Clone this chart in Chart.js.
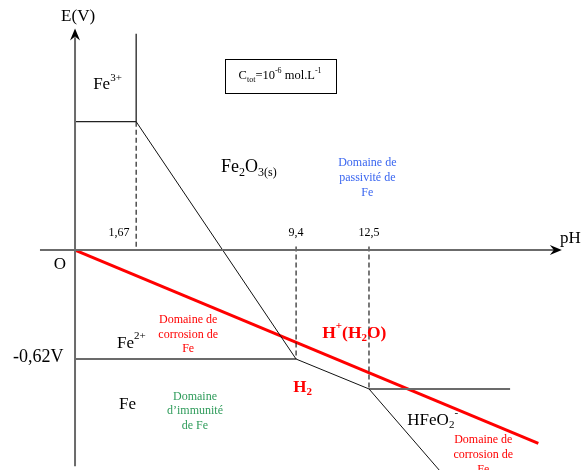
<!DOCTYPE html>
<html>
<head>
<meta charset="utf-8">
<script src="https://cdn.jsdelivr.net/npm/chart.js@4/dist/chart.umd.min.js"></script>
<style>
  body { margin: 0; background: #fff; }
  #wrap { width: 583px; height: 470px; position: relative; }
</style>
</head>
<body>
<div id="wrap"><canvas id="c"></canvas></div>
<script>
// boundaries of the diagram (pH, E in V) - pH axis is schematic, as in the picture
const fe3Boundary = [[0, 0.73], [2.6, 0.73], [2.6, 1.23]];
const oxideBoundary = [[2.6, 0.73], [9.4, -0.62], [12.5, -0.79], [15.8, -1.3]];
const fe2Boundary = [[0, -0.62], [9.4, -0.62]];
const hfeo2Boundary = [[12.5, -0.79], [18.5, -0.79]];
const waterLine = [[0, 0], [19.7, -1.1]];

// dashed guides at the pH breaks
const tickPH = [2.6, 9.4, 12.5];
const tickLabels = ["1,67", "9,4", "12,5"];
const dashTop = [0.73, 0.02, 0.02];
const dashBottom = [0, -0.62, -0.79];

// axes
const xAxisEnds = [-1.49, 20.7];
const yAxisEnds = [-1.23, 1.26];

const pts = a => a.map(p => ({ x: p[0], y: p[1] }));

function line(data, color, width, dash) {
    return {
        data: pts(data), showLine: true, borderColor: color, borderWidth: width,
        borderDash: dash || [], pointRadius: 0, fill: false, tension: 0
    };
}

const datasets = [
    line([[xAxisEnds[0], 0], [xAxisEnds[1] - 0.3, 0]], "#6b6b6b", 2),
    line([[0, yAxisEnds[0]], [0, yAxisEnds[1] - 0.05]], "#6b6b6b", 2),
    line(fe3Boundary, "#222", 1.3),
    line(oxideBoundary, "#111", 1),
    line(fe2Boundary, "#6b6b6b", 2),
    line(hfeo2Boundary, "#6b6b6b", 2)
];
tickPH.forEach((ph, i) => {
    datasets.push(line([[ph, dashTop[i]], [ph, dashBottom[i]]], "#222", 1.2, [5, 3]));
});
datasets.push(line(waterLine, "#ff0000", 3));

// text labels: [pH, E, parts, size, color, bold, align]
const SERIF = "'Liberation Serif', 'DejaVu Serif', serif";
const labels = [
    [0.13, 1.33, [["E(V)", 0]], 17, "#000", false, "center"],
    [0.77, 0.94, [["Fe", 0], ["3+", 1]], 17, "#000", false, "left"],
    [8.72, 0.99, [["C", 0], ["tot", -1], ["=10", 0], ["-6", 1], [" mol.L", 0], ["-1", 1]], 12.5, "#000", false, "center"],
    [6.21, 0.47, [["Fe", 0], ["2", -1], ["O", 0], ["3(s)", -1]], 18, "#000", false, "left"],
    [12.43, 0.495, [["Domaine de", 0]], 12, "#3a66f0", false, "center"],
    [12.43, 0.41, [["passivité de", 0]], 12, "#3a66f0", false, "center"],
    [12.43, 0.324, [["Fe", 0]], 12, "#3a66f0", false, "center"],
    [-0.64, -0.085, [["O", 0]], 17, "#000", false, "center"],
    [21.06, 0.068, [["pH", 0]], 17, "#000", false, "center"],
    [-2.64, -0.609, [["-0,62V", 0]], 18, "#000", false, "left"],
    [1.79, -0.529, [["Fe", 0], ["2+", 1]], 17, "#000", false, "left"],
    [4.81, -0.398, [["Domaine de", 0]], 12, "#ff0000", false, "center"],
    [4.81, -0.483, [["corrosion de", 0]], 12, "#ff0000", false, "center"],
    [4.81, -0.563, [["Fe", 0]], 12, "#ff0000", false, "center"],
    [1.87, -0.88, [["Fe", 0]], 17, "#000", false, "left"],
    [5.1, -0.836, [["Domaine", 0]], 12, "#2e9b5a", false, "center"],
    [5.1, -0.916, [["d\u2019immunité", 0]], 12, "#2e9b5a", false, "center"],
    [5.1, -1.0, [["de Fe", 0]], 12, "#2e9b5a", false, "center"],
    [10.51, -0.472, [["H", 0], ["+", 1], ["(H", 0], ["2", -1], ["O)", 0]], 17.5, "#ff0000", true, "left"],
    [9.28, -0.78, [["H", 0], ["2", -1]], 17, "#ff0000", true, "left"],
    [14.13, -0.967, [["HFeO", 0], ["2", -1], ["-", 1]], 17, "#000", false, "left"],
    [17.36, -1.08, [["Domaine de", 0]], 12, "#ff0000", false, "center"],
    [17.36, -1.166, [["corrosion de", 0]], 12, "#ff0000", false, "center"],
    [17.36, -1.251, [["Fe", 0]], 12, "#ff0000", false, "center"]
];

function drawRich(ctx, x, y, parts, size, color, bold, align) {
    const w = bold ? "bold " : "";
    const small = Math.round(size * 0.65);
    let total = 0;
    parts.forEach(p => {
        ctx.font = w + (p[1] ? small : size) + "px " + SERIF;
        total += ctx.measureText(p[0]).width;
    });
    let cx = align === "center" ? x - total / 2 : x;
    ctx.fillStyle = color;
    ctx.textBaseline = "middle";
    ctx.textAlign = "left";
    parts.forEach(p => {
        ctx.font = w + (p[1] ? small : size) + "px " + SERIF;
        const dy = p[1] === 1 ? -size * 0.4 : p[1] === -1 ? size * 0.3 : 0;
        ctx.fillText(p[0], cx, y + dy);
        cx += ctx.measureText(p[0]).width;
    });
}

const decor = {
    id: "decor",
    afterDatasetsDraw(chart) {
        const ctx = chart.ctx, xs = chart.scales.x, ys = chart.scales.y;
        ctx.save();
        // arrow heads
        ctx.fillStyle = "#000";
        const tx = xs.getPixelForValue(xAxisEnds[1]), ty = ys.getPixelForValue(0);
        ctx.beginPath();
        ctx.moveTo(tx, ty); ctx.lineTo(tx - 12, ty - 5); ctx.lineTo(tx - 8, ty); ctx.lineTo(tx - 12, ty + 5);
        ctx.closePath(); ctx.fill();
        const ax = xs.getPixelForValue(0), ay = ys.getPixelForValue(yAxisEnds[1]);
        ctx.beginPath();
        ctx.moveTo(ax, ay); ctx.lineTo(ax - 5, ay + 12); ctx.lineTo(ax, ay + 8); ctx.lineTo(ax + 5, ay + 12);
        ctx.closePath(); ctx.fill();
        // concentration box
        const bx0 = xs.getPixelForValue(6.38), bx1 = xs.getPixelForValue(11.1);
        const by0 = ys.getPixelForValue(1.086), by1 = ys.getPixelForValue(0.893);
        ctx.strokeStyle = "#000"; ctx.lineWidth = 1;
        ctx.strokeRect(Math.round(bx0) + 0.5, Math.round(by0) + 0.5, Math.round(bx1 - bx0), Math.round(by1 - by0));
        // tick labels
        tickPH.forEach((ph, i) => {
            drawRich(ctx, xs.getPixelForValue(ph - (i === 0 ? 0.73 : 0)), ys.getPixelForValue(0.097),
                [[tickLabels[i], 0]], 12, "#000", false, "center");
        });
        labels.forEach(l => {
            drawRich(ctx, xs.getPixelForValue(l[0]), ys.getPixelForValue(l[1]), l[2], l[3], l[4], l[5], l[6]);
        });
        ctx.restore();
    }
};

new Chart(document.getElementById("c"), {
    type: "scatter",
    data: { datasets: datasets },
    options: {
        responsive: true,
        maintainAspectRatio: false,
        animation: false,
        layout: { padding: 0 },
        scales: {
            x: { type: "linear", display: false, min: -3.19, max: 21.6 },
            y: { type: "linear", display: false, min: -1.251, max: 1.422 }
        },
        plugins: { legend: { display: false }, tooltip: { enabled: false } }
    },
    plugins: [decor]
});
</script>
</body>
</html>
